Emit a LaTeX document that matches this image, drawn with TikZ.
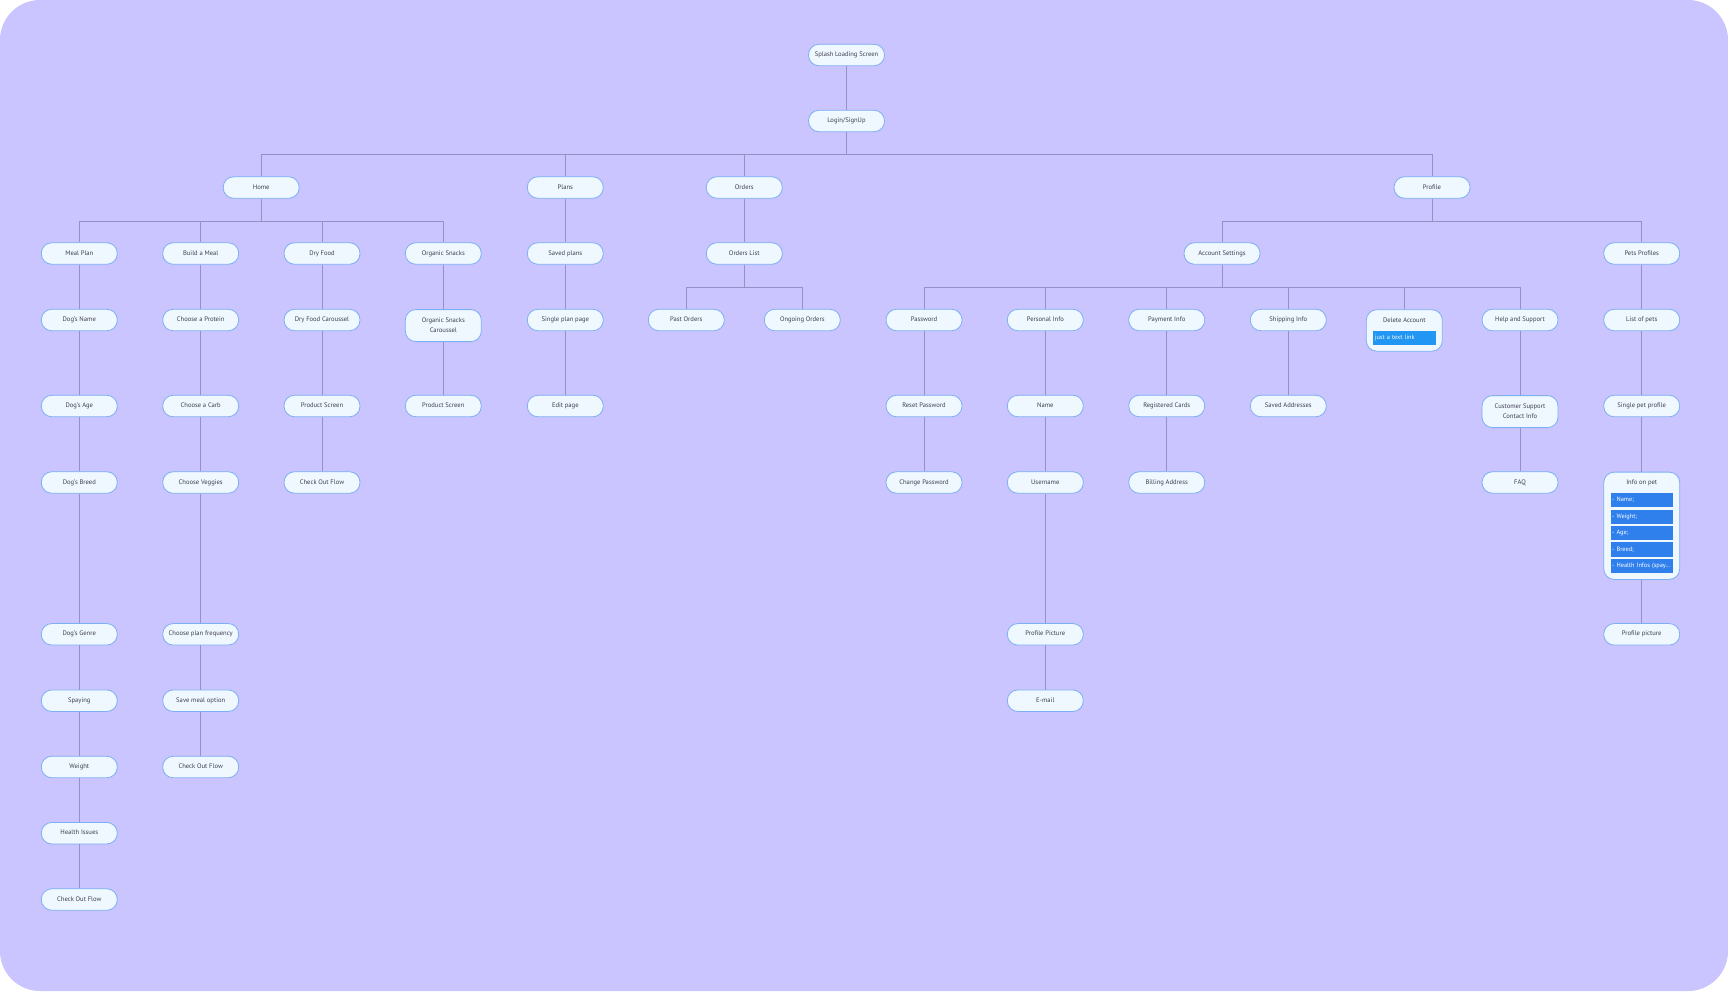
\documentclass[tikz,border=0pt]{standalone}
\usepackage{fontspec}
\setmainfont{PT Sans}
\usetikzlibrary{positioning}
\definecolor{canvas}{HTML}{CAC4FF}
\definecolor{cardfill}{HTML}{EFF7FF}
\definecolor{cardline}{HTML}{7BB0F2}
\definecolor{wire}{HTML}{9890C4}
\definecolor{inktext}{HTML}{3D3F4E}
\definecolor{linkblue}{HTML}{2196F3}
\definecolor{fieldblue}{HTML}{2F80ED}

\begin{document}
\begin{tikzpicture}[x=1pt,y=-1pt,
 box/.style={draw=cardline,fill=cardfill,line width=0.8pt,rounded corners=10.5pt,minimum width=76pt,minimum height=21.5pt,inner sep=1pt,align=center,text=inktext,font=\fontsize{6.6}{10}\selectfont},
 screen/.style={box,text height=4.8pt,text depth=1.6pt},
 tallbox/.style={box,anchor=north,minimum height=#1},
 caption/.style={text=inktext,inner sep=0pt,font=\fontsize{6.6}{10}\selectfont},
 field/.style={fill=#1,minimum height=14.2pt,inner sep=1.5pt,text width=59.6pt,text height=4.6pt,text depth=1.5pt,align=left,text=white,font=\fontsize{6.3}{7}\selectfont},
 field/.default=fieldblue,
 link/.style={draw=wire,line width=0.75pt},
 elbow/.style={to path={(\tikztostart.south) -- ++(0,22.25) -| (\tikztotarget.north)}}]
\useasboundingbox (0,0) rectangle (1728,991);
\fill[white] (0,0) rectangle (1728,991);
\fill[canvas,rounded corners=40pt] (0,0) rectangle (1728,991);

\node[screen] (splash) at (846.5,55) {Splash Loading Screen};
\node[screen] (login) at (846.5,121) {Login/SignUp};

\node[screen] (home) at (261.2,187.5) {Home};
\node[screen] (plans) at (565.3,187.5) {Plans};
\node[screen] (orders) at (744.3,187.5) {Orders};
\node[screen] (profile) at (1432,187.5) {Profile};

% home branch
\node[screen] (mealplan) at (79.3,253.5) {Meal Plan};
\node[screen] (dogname) at (79.3,320) {Dog's Name};
\node[screen] (dogage) at (79.3,406) {Dog's Age};
\node[screen] (dogbreed) at (79.3,482.5) {Dog's Breed};
\node[screen] (doggenre) at (79.3,634.3) {Dog's Genre};
\node[screen] (spaying) at (79.3,700.7) {Spaying};
\node[screen] (weight) at (79.3,767) {Weight};
\node[screen] (health) at (79.3,833.2) {Health Issues};
\node[screen] (mealcheckout) at (79.3,899.5) {Check Out Flow};

\node[screen] (buildmeal) at (200.7,253.5) {Build a Meal};
\node[screen] (protein) at (200.7,320) {Choose a Protein};
\node[screen] (carb) at (200.7,406) {Choose a Carb};
\node[screen] (veggies) at (200.7,482.5) {Choose Veggies};
\node[screen] (frequency) at (200.7,634.3) {Choose plan frequency};
\node[screen] (savemeal) at (200.7,700.7) {Save meal option};
\node[screen] (buildcheckout) at (200.7,767) {Check Out Flow};

\node[screen] (dryfood) at (322,253.5) {Dry Food};
\node[screen] (drycarousel) at (322,320) {Dry Food Caroussel};
\node[screen] (dryproduct) at (322,406) {Product Screen};
\node[screen] (drycheckout) at (322,482.5) {Check Out Flow};

\node[screen] (snacks) at (443.3,253.5) {Organic Snacks};
\node[tallbox=32pt] (snackcarousel) at (443.3,309.2) {Organic Snacks\\Caroussel};
\node[screen] (snackproduct) at (443.3,406) {Product Screen};

% plans and orders
\node[screen] (savedplans) at (565.3,253.5) {Saved plans};
\node[screen] (singleplan) at (565.3,320) {Single plan page};
\node[screen] (editpage) at (565.3,406) {Edit page};

\node[screen] (orderlist) at (744.3,253.5) {Orders List};
\node[screen] (pastorders) at (686.3,320) {Past Orders};
\node[screen] (ongoing) at (802.3,320) {Ongoing Orders};

% profile branch
\node[screen] (account) at (1222,253.5) {Account Settings};
\node[screen] (password) at (924,320) {Password};
\node[screen] (resetpw) at (924,406) {Reset Password};
\node[screen] (changepw) at (924,482.5) {Change Password};

\node[screen] (personal) at (1045.3,320) {Personal Info};
\node[screen] (name) at (1045.3,406) {Name};
\node[screen] (username) at (1045.3,482.5) {Username};
\node[screen] (profilepic) at (1045.3,634.3) {Profile Picture};
\node[screen] (email) at (1045.3,700.7) {E-mail};

\node[screen] (payment) at (1166.7,320) {Payment Info};
\node[screen] (cards) at (1166.7,406) {Registered Cards};
\node[screen] (billing) at (1166.7,482.5) {Billing Address};

\node[screen] (shipping) at (1288.3,320) {Shipping Info};
\node[screen] (addresses) at (1288.3,406) {Saved Addresses};

\node[tallbox=41.5pt] (delete) at (1404.3,309.3) {};
\node[caption] (deletetitle) at (1404.3,320.3) {Delete Account};
\node[field=linkblue] (textlink) at (1404.7,337.9) {just a text link};

\node[screen] (help) at (1520,320) {Help and Support};
\node[tallbox=32pt] (support) at (1520,395.2) {Customer Support\\Contact Info};
\node[screen] (faq) at (1520,482.5) {FAQ};

\node[screen] (pets) at (1641.7,253.5) {Pets Profiles};
\node[screen] (petlist) at (1641.7,320) {List of pets};
\node[screen] (singlepet) at (1641.7,406) {Single pet profile};
\node[tallbox=107.3pt] (petinfo) at (1641.7,471.7) {};
\node[caption] (petinfotitle) at (1641.7,482.7) {Info on pet};
\node[field] (petname) at (1642,500.1) {- Name;};
\node[field] (petweight) at (1642,516.6) {- Weight;};
\node[field] (petage) at (1642,533.1) {- Age;};
\node[field] (petbreed) at (1642,549.5) {- Breed;};
\node[field] (pethealth) at (1642,566) {- Health Infos (spay\ldots};
\node[screen] (petpic) at (1641.7,634.3) {Profile picture};

% connectors
\draw[link] (splash) -- (login);
\draw[link] (login) to[elbow] (home) (login) to[elbow] (plans) (login) to[elbow] (orders) (login) to[elbow] (profile);
\draw[link] (home) to[elbow] (mealplan) (home) to[elbow] (buildmeal) (home) to[elbow] (dryfood) (home) to[elbow] (snacks);
\draw[link] (mealplan) -- (dogname); \draw[link] (dogname) -- (dogage); \draw[link] (dogage) -- (dogbreed);
\draw[link] (dogbreed) -- (doggenre); \draw[link] (doggenre) -- (spaying); \draw[link] (spaying) -- (weight);
\draw[link] (weight) -- (health); \draw[link] (health) -- (mealcheckout);
\draw[link] (buildmeal) -- (protein); \draw[link] (protein) -- (carb); \draw[link] (carb) -- (veggies);
\draw[link] (veggies) -- (frequency); \draw[link] (frequency) -- (savemeal); \draw[link] (savemeal) -- (buildcheckout);
\draw[link] (dryfood) -- (drycarousel); \draw[link] (drycarousel) -- (dryproduct); \draw[link] (dryproduct) -- (drycheckout);
\draw[link] (snacks) -- (snackcarousel); \draw[link] (snackcarousel) -- (snackproduct);
\draw[link] (plans) -- (savedplans); \draw[link] (savedplans) -- (singleplan); \draw[link] (singleplan) -- (editpage);
\draw[link] (orders) -- (orderlist);
\draw[link] (orderlist) to[elbow] (pastorders) (orderlist) to[elbow] (ongoing);
\draw[link] (profile) to[elbow] (account) (profile) to[elbow] (pets);
\draw[link] (account) to[elbow] (password) (account) to[elbow] (personal) (account) to[elbow] (payment)
  (account) to[elbow] (shipping) (account) to[elbow] (delete) (account) to[elbow] (help);
\draw[link] (password) -- (resetpw); \draw[link] (resetpw) -- (changepw);
\draw[link] (personal) -- (name); \draw[link] (name) -- (username); \draw[link] (username) -- (profilepic); \draw[link] (profilepic) -- (email);
\draw[link] (payment) -- (cards); \draw[link] (cards) -- (billing);
\draw[link] (shipping) -- (addresses);
\draw[link] (help) -- (support); \draw[link] (support) -- (faq);
\draw[link] (pets) -- (petlist); \draw[link] (petlist) -- (singlepet); \draw[link] (singlepet) -- (petinfo); \draw[link] (petinfo) -- (petpic);
\end{tikzpicture}
\end{document}
